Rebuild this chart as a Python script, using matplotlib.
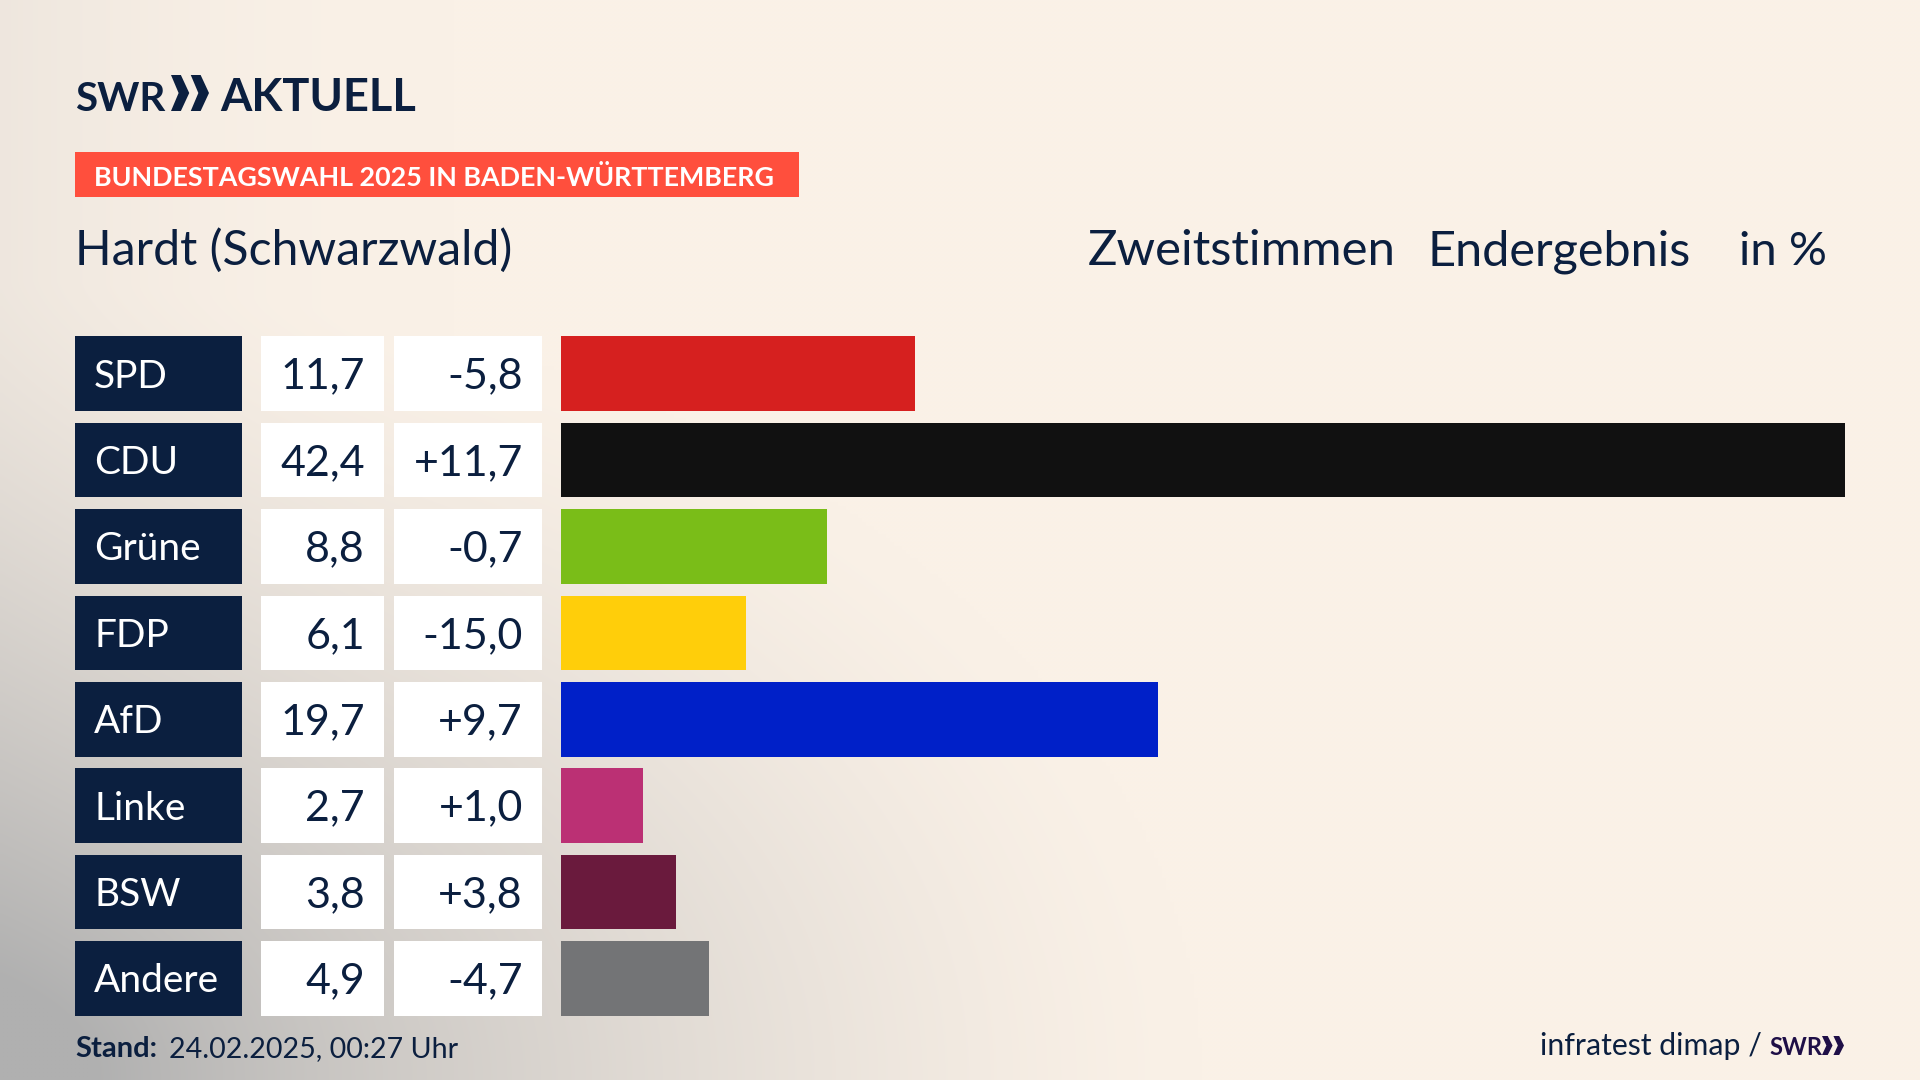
import numpy as np
import matplotlib
matplotlib.use("Agg")
import matplotlib.pyplot as plt
from matplotlib.patches import Polygon, Rectangle

parties = ["SPD", "CDU", "Grüne", "FDP", "AfD", "Linke", "BSW", "Andere"]
results = [11.7, 42.4, 8.8, 6.1, 19.7, 2.7, 3.8, 4.9]
changes = ["-5,8", "+11,7", "-0,7", "-15,0", "+9,7", "+1,0", "+3,8", "-4,7"]
colors = ["#d6201f", "#111111", "#7abd18", "#ffce0a", "#0020c8", "#bb3074", "#6a1a3d", "#737476"]

NAVY = "#0b1f3f"
plt.rcParams["font.family"] = ["Lato", "DejaVu Sans"]


def comma(v):
    return ("%.1f" % v).replace(".", ",")


def chevrons(ax, x, top, bottom, width, color):
    # two arrow heads of the SWR logo
    mid = (top + bottom) / 2
    for off in (0, width * 0.52):
        pts = [(x + off, top), (x + off + width * 0.26, top), (x + off + width * 0.48, mid),
               (x + off + width * 0.26, bottom), (x + off, bottom), (x + off + width * 0.2, mid)]
        ax.add_patch(Polygon(pts, closed=True, color=color, lw=0))


def main():
    fig = plt.figure(figsize=(19.2, 10.8), dpi=100)

    # page in pixel coordinates
    ax = fig.add_axes([0, 0, 1, 1])
    ax.set_xlim(0, 1920)
    ax.set_ylim(1080, 0)
    ax.axis("off")

    yy, xx = np.mgrid[0:1080:270j, 0:1920:480j]
    d = np.sqrt((xx / 1200) ** 2 + ((1080 - yy) / 800) ** 2)
    t = np.clip(1 - d, 0, 1) ** 1.35
    t2 = np.clip(1 - xx / 450, 0, 1) ** 2 * 0.16
    t = np.clip(t + t2, 0, 1)
    cream = np.array([0xfa, 0xf1, 0xe7]) / 255
    grey = np.array([0xb0, 0xb0, 0xb0]) / 255
    bg = cream[None, None, :] * (1 - t[..., None]) + grey[None, None, :] * t[..., None]
    ax.imshow(bg, extent=(0, 1920, 1080, 0), aspect="auto", zorder=0, interpolation="bilinear")

    # logo
    ax.text(75, 111, "SWR", color=NAVY, fontsize=29, fontweight="bold", va="baseline")
    chevrons(ax, 171, 75, 111, 38, NAVY)
    ax.text(220, 111, "AKTUELL", color=NAVY, fontsize=32.5, fontweight="bold", va="baseline")

    # banner
    ax.add_patch(Rectangle((75, 152), 724, 45, color="#ff4f3d", lw=0))
    ax.text(94, 186, "BUNDESTAGSWAHL 2025 IN BADEN-WÜRTTEMBERG", color="white",
            fontsize=19.4, fontweight="bold", va="baseline")

    # headline
    ax.text(75, 265, "Hardt (Schwarzwald)", color=NAVY, fontsize=34.7, va="baseline")
    ax.text(1088, 265, "Zweitstimmen", color=NAVY, fontsize=35.4, va="baseline")
    ax.text(1428, 265, "Endergebnis", color=NAVY, fontsize=35, va="baseline")
    ax.text(1739, 265, "in %", color=NAVY, fontsize=34.2, va="baseline")

    # table on the left
    row_h = 74.6
    pitch = 86.4
    top = 336.3
    for i, name in enumerate(parties):
        y = top + i * pitch
        ax.add_patch(Rectangle((75, y), 167, row_h, color=NAVY, lw=0))
        ax.add_patch(Rectangle((261, y), 123, row_h, color="white", lw=0))
        ax.add_patch(Rectangle((394, y), 148, row_h, color="white", lw=0))
        base = y + row_h / 2 + 14
        ax.text(94, base, name, color="white", fontsize=28, va="baseline")
        ax.text(365, base + 1, comma(results[i]), color=NAVY, fontsize=31, ha="right", va="baseline")
        ax.text(523, base + 1, changes[i], color=NAVY, fontsize=31, ha="right", va="baseline")

    # footer
    ax.text(75, 1057, "Stand:", color=NAVY, fontsize=21, fontweight="bold", va="baseline")
    ax.text(169, 1057, "24.02.2025, 00:27 Uhr", color=NAVY, fontsize=20.6, va="baseline")
    ax.text(1540, 1055, "infratest dimap /", color=NAVY, fontsize=21.8, va="baseline")
    ax.text(1769, 1055, "SWR", color="#1f0f47", fontsize=17, fontweight="bold", va="baseline")
    chevrons(ax, 1822, 1036, 1055, 22, "#1f0f47")

    # bars
    bar_ax = fig.add_axes([561 / 1920, 1 - (top + 7 * pitch + row_h) / 1080,
                           1284 / 1920, (7 * pitch + row_h) / 1080])
    bar_ax.patch.set_alpha(0)
    bar_ax.axis("off")
    y_pos = np.arange(len(parties))
    bar_ax.barh(y_pos, results, height=row_h / pitch, color=colors)
    bar_ax.set_xlim(0, 42.4)
    half = row_h / pitch / 2
    bar_ax.set_ylim(len(parties) - 1 + half, -half)

    fig.savefig("out.png", dpi=100)


if __name__ == "__main__":
    main()
